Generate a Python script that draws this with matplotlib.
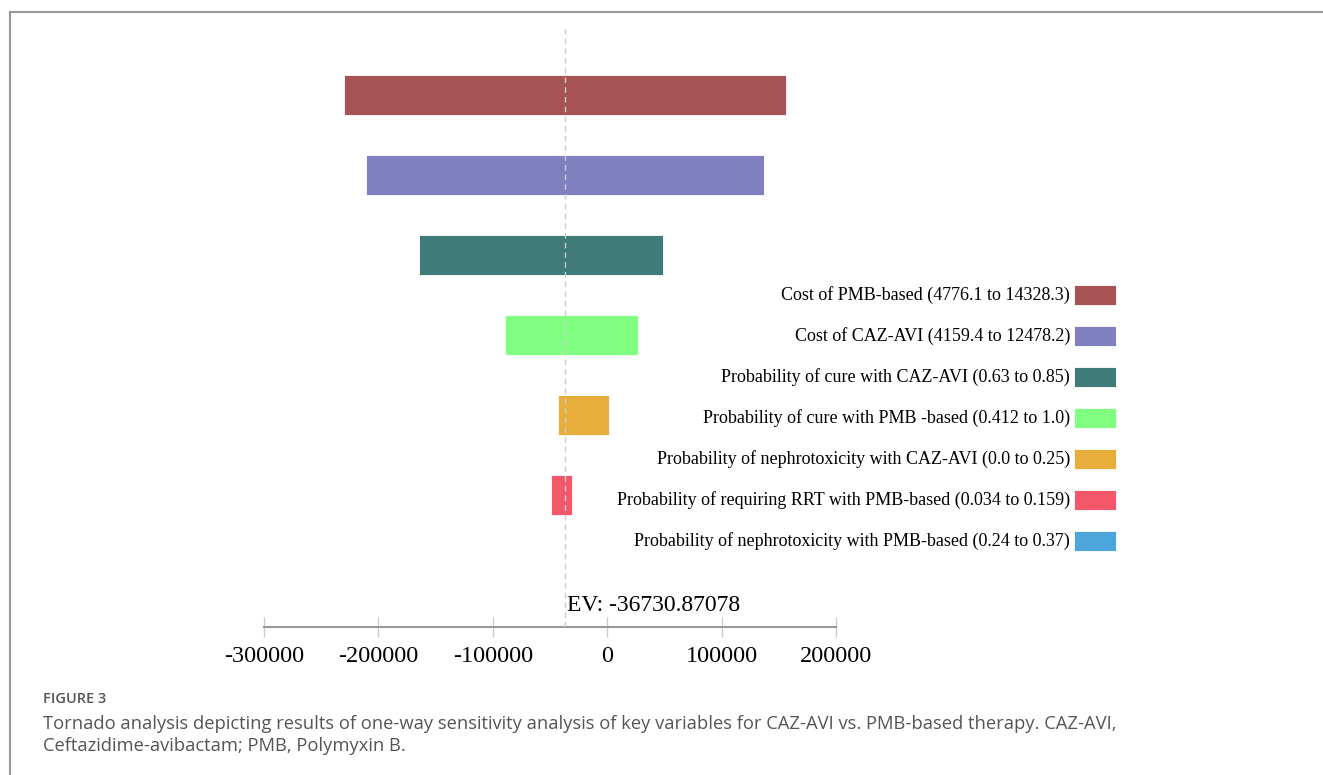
import numpy as np
import matplotlib.pyplot as plt
from matplotlib.lines import Line2D
from matplotlib.patches import Rectangle

# Tornado data
labels = [
    "Cost of PMB-based (4776.1 to 14328.3)",
    "Cost of CAZ-AVI (4159.4 to 12478.2)",
    "Probability of cure with CAZ-AVI (0.63 to 0.85)",
    "Probability of cure with PMB -based (0.412 to 1.0)",
    "Probability of nephrotoxicity with CAZ-AVI (0.0 to 0.25)",
    "Probability of requiring RRT with PMB-based (0.034 to 0.159)",
    "Probability of nephrotoxicity with PMB-based (0.24 to 0.37)",
]
low = [-230000, -211100, -164300, -89200, -43100, -49300, -36730.87078]
high = [156000, 136800, 48600, 26700, 1400, -30900, -36730.87078]
colors = ["#A85353", "#8080C0", "#3F7B78", "#80FF80", "#E8AE3C", "#F25869", "#4DA6DB"]
ev = -36730.87078
xticks = [-300000, -200000, -100000, 0, 100000, 200000]

W, H = 1323, 775
fig = plt.figure(figsize=(W / 100, H / 100), dpi=100)

# axes spans the full width; bottom edge sits on the axis line
ax_bottom_px, ax_top_px = 627, 25
ax = fig.add_axes([0, 1 - ax_bottom_px / H, 1, (ax_bottom_px - ax_top_px) / H])
ax.set_xlim(-530480, 624980)
row0, step = 94.5, 80.0
ax.set_ylim((ax_bottom_px - row0) / step, (ax_top_px - row0) / step)

low = np.array(low)
high = np.array(high)
y = np.arange(len(labels))
ax.barh(y, high - low, left=low, height=0.5, color=colors,
        edgecolor="white", linewidth=0.6)

ax.axvline(ev, color="#cccccc", lw=1, ls=(0, (4, 3)), zorder=3)
ax.annotate(f"EV: {ev}", xy=(ev, 0), xycoords=("data", "axes fraction"),
            xytext=(1, 8), textcoords="offset points", ha="left", va="bottom",
            family="Liberation Serif", fontsize=17)

for s in ["top", "right", "left"]:
    ax.spines[s].set_visible(False)
ax.spines["bottom"].set_bounds(xticks[0], xticks[-1])
ax.spines["bottom"].set_color("#999999")
ax.spines["bottom"].set_linewidth(1.5)
ax.set_yticks([])
ax.set_xticks(xticks)
ax.set_xticklabels([str(t) for t in xticks], family="Liberation Serif", fontsize=17.5)
ax.tick_params(axis="x", direction="inout", length=15, width=1, color="#cccccc", pad=6)

# legend: text right-aligned, colour box to the right
leg_x, box_w, box_h = 1074, 42, 20
for k, (lab, col) in enumerate(zip(labels, colors)):
    yc = 295 + 41 * k
    fig.text((leg_x - 4) / W, 1 - yc / H, lab, ha="right", va="center",
             family="Liberation Serif", fontsize=13)
    fig.add_artist(Rectangle((leg_x / W, 1 - (yc + box_h / 2) / H), box_w / W, box_h / H,
                             transform=fig.transFigure, facecolor=col,
                             edgecolor="white", linewidth=0.6))

# frame lines
fig.add_artist(Line2D([10 / W, 10 / W], [0, 1 - 12 / H], transform=fig.transFigure,
                      color="#999999", lw=1.5))
fig.add_artist(Line2D([10 / W, 1], [1 - 12 / H, 1 - 12 / H], transform=fig.transFigure,
                      color="#999999", lw=1.5))

# caption
fig.text(43 / W, 1 - 699 / H, "FIGURE 3", ha="left", va="center",
         family="Open Sans", fontsize=10.5, fontweight="semibold", color="#555555")
fig.text(43 / W, 1 - 724 / H,
         "Tornado analysis depicting results of one-way sensitivity analysis of key variables for CAZ-AVI vs. PMB-based therapy. CAZ-AVI,",
         ha="left", va="center", family="Open Sans", fontsize=13.2, color="#555555")
fig.text(43 / W, 1 - 746 / H, "Ceftazidime-avibactam; PMB, Polymyxin B.",
         ha="left", va="center", family="Open Sans", fontsize=13.2, color="#555555")

fig.savefig("out.png", dpi=100)
